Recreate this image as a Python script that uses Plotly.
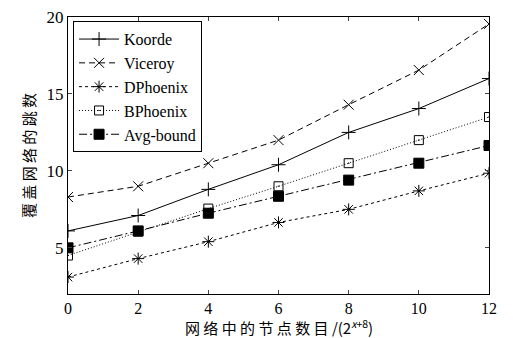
import plotly.graph_objects as go

x_vals = [0, 2, 4, 6, 8, 10, 12]
koorde = [6.1, 7.1, 8.8, 10.4, 12.5, 14.05, 16.0]
viceroy = [8.3, 9.0, 10.5, 12.0, 14.3, 16.55, 19.55]
dphoenix = [3.1, 4.3, 5.4, 6.65, 7.5, 8.7, 9.85]
bphoenix = [4.5, 6.05, 7.55, 9.0, 10.5, 12.0, 13.5]
avg_bound = [5.0, 6.1, 7.25, 8.35, 9.4, 10.5, 11.65]

x_ticks = [0, 2, 4, 6, 8, 10, 12]
y_ticks = [5, 10, 15, 20]

series = [
    ("Koorde", koorde, "solid", "cross-thin-open", 10),
    ("Viceroy", viceroy, "6px,4px", "x-thin-open", 10),
    ("DPhoenix", dphoenix, "3px,3px", "asterisk-open", 10),
    ("BPhoenix", bphoenix, "1px,2px", "square-open-dot", 9),
    ("Avg-bound", avg_bound, "8px,3px,2px,3px", "square", 10),
]

fig = go.Figure()
for name, ys, dash, sym, size in series:
    fig.add_trace(go.Scatter(
        x=x_vals, y=ys, name=name, mode="lines+markers",
        line=dict(color="black", width=1, dash=dash),
        marker=dict(symbol=sym, size=size, color="black",
                    line=dict(color="black", width=1)),
    ))

serif = "Liberation Serif"
cjk = "Noto Sans CJK SC"
fig.update_layout(
    width=513, height=338,
    margin=dict(l=68, r=24, t=17, b=44, autoexpand=False),
    paper_bgcolor="white", plot_bgcolor="white",
    font=dict(family=serif, size=16, color="black"),
    showlegend=True,
    legend=dict(x=0.012, y=0.985, xanchor="left", yanchor="top",
                bordercolor="black", borderwidth=1, bgcolor="white",
                font=dict(family=serif, size=16),
                tracegroupgap=0, itemwidth=40),
    xaxis=dict(range=[0, 12], tickvals=x_ticks, ticks="inside", ticklen=4,
               showline=True, linecolor="black", linewidth=1, mirror="ticks",
               showgrid=False, zeroline=False,
               tickfont=dict(family=serif, size=16)),
    yaxis=dict(range=[2, 20], tickvals=y_ticks, ticks="inside", ticklen=4,
               showline=True, linecolor="black", linewidth=1, mirror="ticks",
               showgrid=False, zeroline=False,
               tickfont=dict(family=serif, size=17),
               title=dict(text="覆 盖 网 络 的 跳 数",
                          font=dict(family=cjk, size=15, color="black"), standoff=7)),
    annotations=[dict(
        text="网 络 中 的 节 点 数 目 /(2<sup><i>x</i>+8</sup>)",
        xref="paper", yref="paper", x=0.5, y=-0.118,
        xanchor="center", yanchor="middle", showarrow=False,
        font=dict(family=cjk, size=15, color="black"))],
)

fig.write_html("out.html", config={"displayModeBar": False},
               post_script="document.body.style.margin='0';")
